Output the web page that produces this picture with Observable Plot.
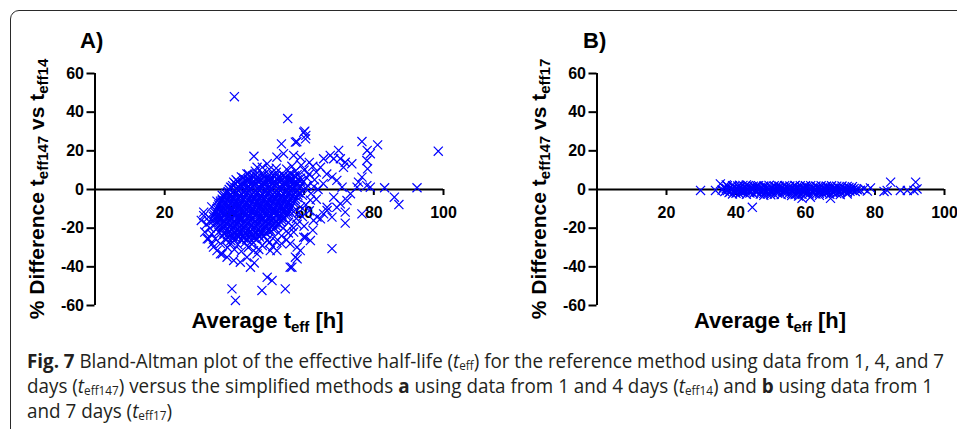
<!DOCTYPE html>
<html><head><meta charset="utf-8">
<script src="https://cdn.jsdelivr.net/npm/d3@7"></script>
<script src="https://cdn.jsdelivr.net/npm/@observablehq/plot@0.6"></script>
<style>
html,body{margin:0;padding:0;background:#fff;width:957px;height:429px;overflow:hidden;}
#frame{position:absolute;left:10px;top:10px;width:990px;height:470px;border:1.6px solid #2a2a2a;border-radius:9px;box-sizing:border-box;}
#pa{position:absolute;left:0;top:0;width:480px;height:340px;}
#pb{position:absolute;left:480px;top:0;width:477px;height:340px;}
#ov{position:absolute;left:0;top:0;}
.ttl{font-family:"Liberation Sans",Arial,sans-serif;font-weight:bold;fill:#000;}
.cap{position:absolute;left:27px;font-family:"Open Sans",sans-serif;color:#231f20;font-size:20px;line-height:25px;white-space:nowrap;transform-origin:0 50%;}
.cap sub{display:inline-block;font-size:12.5px;line-height:9px;vertical-align:-2px;}
</style></head><body>
<div id="frame"></div>
<div id="pa"></div><div id="pb"></div>
<svg id="ov" width="957" height="340">
  <text class="ttl" x="80" y="48" font-size="22">A)</text>
  <text class="ttl" x="583" y="48" font-size="22">B)</text>
  <text class="ttl" font-size="21" text-anchor="middle" transform="translate(44,189) rotate(-90)">% Difference t<tspan font-size="15" dy="4">eff147</tspan><tspan dy="-4"> vs t</tspan><tspan font-size="15" dy="4">eff14</tspan></text>
  <text class="ttl" font-size="21" text-anchor="middle" transform="translate(546,189) rotate(-90)">% Difference t<tspan font-size="15" dy="4">eff147</tspan><tspan dy="-4"> vs t</tspan><tspan font-size="15" dy="4">eff17</tspan></text>
  <text class="ttl" font-size="22" text-anchor="middle" x="267.5" y="328">Average t<tspan font-size="15" dy="4">eff</tspan><tspan dy="-4"> [h]</tspan></text>
  <text class="ttl" font-size="22" text-anchor="middle" x="770" y="328">Average t<tspan font-size="15" dy="4">eff</tspan><tspan dy="-4"> [h]</tspan></text>
</svg>
<div class="cap" data-w="917" style="top:348px"><b>Fig. 7</b> Bland-Altman plot of the effective half-life (<i>t</i><sub>eff</sub>) for the reference method using data from 1, 4, and 7</div>
<div class="cap" data-w="906" style="top:373px">days (<i>t</i><sub>eff147</sub>) versus the simplified methods <b>a</b> using data from 1 and 4 days (<i>t</i><sub>eff14</sub>) and <b>b</b> using data from 1</div>
<div class="cap" data-w="145" style="top:398px">and 7 days (<i>t</i><sub>eff17</sub>)</div>
<script>
// ---- data ----
const xTicks = [20, 40, 60, 80, 100];
const yTicks = [-60, -40, -20, 0, 20, 40, 60];

// Panel A: dense core of the cloud (even rows)
const coreA = [
[44,8],[46,7.3],[48,8.6],[50,7.6],[52,8.9],[54,7.2],[56,8.3],[58,7.7],
[42.5,6],[44,5.4],[45.5,6.5],[47,5.7],[48.5,6.3],[50,5.5],[51.5,6.6],[53,5.8],[54.5,6.2],[56,5.4],[57.5,6.4],[59,5.9],
[41,4],[42.5,3.5],[44,4.6],[45.5,3.8],[47,4.3],[48.5,3.4],[50,4.5],[51.5,3.7],[53,4.2],[54.5,3.5],[56,4.4],[57.5,3.9],[59,4.3],
[39.5,2],[41,1.4],[42.5,2.5],[44,1.7],[45.5,2.3],[47,1.5],[48.5,2.6],[50,1.8],[51.5,2.2],[53,1.4],[54.5,2.5],[56,1.9],[57.5,2.3],[59,1.6],
[38.5,0],[40,-0.6],[41.5,0.5],[43,-0.3],[44.5,0.4],[46,-0.5],[47.5,0.6],[49,-0.2],[50.5,0.3],[52,-0.6],[53.5,0.5],[55,-0.1],[56.5,0.3],[58,-0.4],
[37.5,-2],[39,-2.6],[40.5,-1.5],[42,-2.3],[43.5,-1.6],[45,-2.5],[46.5,-1.4],[48,-2.2],[49.5,-1.7],[51,-2.6],[52.5,-1.5],[54,-2.1],[55.5,-1.7],[57,-2.4],[58.5,-1.8],
[37,-4],[38.5,-3.5],[40,-4.6],[41.5,-3.7],[43,-4.3],[44.5,-3.4],[46,-4.5],[47.5,-3.8],[49,-4.2],[50.5,-3.5],[52,-4.4],[53.5,-3.9],[55,-4.3],[56.5,-3.6],[58,-4.1],
[36,-6],[37.5,-6.5],[39,-5.4],[40.5,-6.2],[42,-5.7],[43.5,-6.6],[45,-5.5],[46.5,-6.3],[48,-5.8],[49.5,-6.4],[51,-5.5],[52.5,-6.1],[54,-5.7],[55.5,-6.5],[57,-5.9],
[35.5,-8],[37,-7.4],[38.5,-8.5],[40,-7.7],[41.5,-8.3],[43,-7.5],[44.5,-8.6],[46,-7.8],[47.5,-8.2],[49,-7.4],[50.5,-8.5],[52,-7.9],[53.5,-8.3],[55,-7.6],[56.5,-8.1],
[35,-10],[36.5,-10.6],[38,-9.5],[39.5,-10.3],[41,-9.7],[42.5,-10.5],[44,-9.4],[45.5,-10.2],[47,-9.8],[48.5,-10.6],[50,-9.5],[51.5,-10.1],[53,-9.7],[54.5,-10.4],[56,-9.9],
[34.5,-12],[36,-11.4],[37.5,-12.5],[39,-11.7],[40.5,-12.3],[42,-11.5],[43.5,-12.6],[45,-11.8],[46.5,-12.2],[48,-11.4],[49.5,-12.5],[51,-11.9],[52.5,-12.3],[54,-11.6],[55.5,-12.1],
[34,-14],[35.5,-14.5],[37,-13.4],[38.5,-14.2],[40,-13.7],[41.5,-14.6],[43,-13.5],[44.5,-14.3],[46,-13.8],[47.5,-14.4],[49,-13.5],[50.5,-14.1],[52,-13.7],[53.5,-14.5],[55,-13.9],
[34,-16],[35.5,-15.4],[37,-16.5],[38.5,-15.7],[40,-16.3],[41.5,-15.5],[43,-16.6],[44.5,-15.8],[46,-16.2],[47.5,-15.4],[49,-16.5],[50.5,-15.9],[52,-16.3],[53.5,-15.6],
[34.5,-18],[36,-18.5],[37.5,-17.4],[39,-18.2],[40.5,-17.7],[42,-18.6],[43.5,-17.5],[45,-18.3],[46.5,-17.8],[48,-18.4],[49.5,-17.5],[51,-18.1],[52.5,-17.7],
[35,-20],[36.5,-19.4],[38,-20.5],[39.5,-19.7],[41,-20.3],[42.5,-19.5],[44,-20.6],[45.5,-19.8],[47,-20.2],[48.5,-19.4],[50,-20.5],[51.5,-19.9],
[35.5,-22],[37,-22.5],[38.5,-21.4],[40,-22.2],[41.5,-21.7],[43,-22.6],[44.5,-21.5],[46,-22.3],[47.5,-21.8],[49,-22.4],[50.5,-21.6],
[36.5,-24],[38,-23.4],[39.5,-24.5],[41,-23.7],[42.5,-24.3],[44,-23.5],[45.5,-24.6],[47,-23.8],[48.5,-24.2],
[37.5,-26],[39,-26.5],[40.5,-25.4],[42,-26.2],[43.5,-25.7],[45,-26.6],[46.5,-25.5],
[39,-28],[41,-28.5],[43,-27.6],[45,-28.3]
];
// Panel A: dense core of the cloud (odd rows)
const core2A = [
[45.2,7],[46.7,6.6],[48.2,7.4],[49.7,6.8],[51.2,7.2],[52.7,6.7],[54.2,7.3],[55.7,6.9],[57.2,7.1],
[43.2,5],[44.7,4.6],[46.2,5.3],[47.7,4.8],[49.2,5.2],[50.7,4.7],[52.2,5.4],[53.7,4.9],[55.2,5.1],[56.7,4.7],[58.2,5.2],
[40.2,3],[41.7,2.6],[43.2,3.3],[44.7,2.8],[46.2,3.2],[47.7,2.7],[49.2,3.4],[50.7,2.9],[52.2,3.1],[53.7,2.6],[55.2,3.3],[56.7,2.8],[58.2,3.2],
[39.2,1],[40.7,0.6],[42.2,1.3],[43.7,0.8],[45.2,1.2],[46.7,0.7],[48.2,1.4],[49.7,0.9],[51.2,1.1],[52.7,0.6],[54.2,1.3],[55.7,0.8],[57.2,1.2],[58.7,0.9],
[38.2,-1],[39.7,-1.4],[41.2,-0.7],[42.7,-1.2],[44.2,-0.8],[45.7,-1.3],[47.2,-0.6],[48.7,-1.1],[50.2,-0.9],[51.7,-1.4],[53.2,-0.7],[54.7,-1.2],[56.2,-0.8],[57.7,-1.1],
[37.2,-3],[38.7,-3.4],[40.2,-2.7],[41.7,-3.2],[43.2,-2.8],[44.7,-3.3],[46.2,-2.6],[47.7,-3.1],[49.2,-2.9],[50.7,-3.4],[52.2,-2.7],[53.7,-3.2],[55.2,-2.8],[56.7,-3.1],[58.2,-3],
[36.5,-5],[38,-5.4],[39.5,-4.7],[41,-5.2],[42.5,-4.8],[44,-5.3],[45.5,-4.6],[47,-5.1],[48.5,-4.9],[50,-5.4],[51.5,-4.7],[53,-5.2],[54.5,-4.8],[56,-5.1],[57.5,-5],
[36,-7],[37.5,-7.4],[39,-6.7],[40.5,-7.2],[42,-6.8],[43.5,-7.3],[45,-6.6],[46.5,-7.1],[48,-6.9],[49.5,-7.4],[51,-6.7],[52.5,-7.2],[54,-6.8],[55.5,-7.1],[57,-7],
[35.2,-9],[36.7,-9.4],[38.2,-8.7],[39.7,-9.2],[41.2,-8.8],[42.7,-9.3],[44.2,-8.6],[45.7,-9.1],[47.2,-8.9],[48.7,-9.4],[50.2,-8.7],[51.7,-9.2],[53.2,-8.8],[54.7,-9.1],[56.2,-9],
[34.7,-11],[36.2,-11.4],[37.7,-10.7],[39.2,-11.2],[40.7,-10.8],[42.2,-11.3],[43.7,-10.6],[45.2,-11.1],[46.7,-10.9],[48.2,-11.4],[49.7,-10.7],[51.2,-11.2],[52.7,-10.8],[54.2,-11.1],[55.7,-11],
[34.2,-13],[35.7,-13.4],[37.2,-12.7],[38.7,-13.2],[40.2,-12.8],[41.7,-13.3],[43.2,-12.6],[44.7,-13.1],[46.2,-12.9],[47.7,-13.4],[49.2,-12.7],[50.7,-13.2],[52.2,-12.8],[53.7,-13.1],[55.2,-13],
[34.7,-15],[36.2,-15.4],[37.7,-14.7],[39.2,-15.2],[40.7,-14.8],[42.2,-15.3],[43.7,-14.6],[45.2,-15.1],[46.7,-14.9],[48.2,-15.4],[49.7,-14.7],[51.2,-15.2],[52.7,-14.8],[54.2,-15.1],
[35.2,-17],[36.7,-17.4],[38.2,-16.7],[39.7,-17.2],[41.2,-16.8],[42.7,-17.3],[44.2,-16.6],[45.7,-17.1],[47.2,-16.9],[48.7,-17.4],[50.2,-16.7],[51.7,-17.2],[53.2,-16.8],
[35.7,-19],[37.2,-19.4],[38.7,-18.7],[40.2,-19.2],[41.7,-18.8],[43.2,-19.3],[44.7,-18.6],[46.2,-19.1],[47.7,-18.9],[49.2,-19.4],[50.7,-18.7],[52.2,-19.2],
[36.2,-21],[37.7,-21.4],[39.2,-20.7],[40.7,-21.2],[42.2,-20.8],[43.7,-21.3],[45.2,-20.6],[46.7,-21.1],[48.2,-20.9],[49.7,-21.4],[51.2,-20.7],
[37.2,-23],[38.7,-23.4],[40.2,-22.7],[41.7,-23.2],[43.2,-22.8],[44.7,-23.3],[46.2,-22.6],[47.7,-23.1],[49.2,-22.9],
[38.2,-25],[39.7,-25.4],[41.2,-24.7],[42.7,-25.2],[44.2,-24.8],[45.7,-25.3],[47.2,-24.6]
];
// Panel A: scattered points around the core
const fringeA = [
[40,48],[55.3,36.7],[60.2,30.2],[60.5,28],[57.9,24.7],[53.5,23.6],[45.6,17.2],[76.6,24.8],[81.1,23.1],[78.1,20.2],
[79,18.5],[98.5,19.8],[69.9,20.2],[67.5,17.6],[70.4,15.9],[71.8,14.1],[68.5,15.9],[73.7,13.3],[71.3,11.5],[78,15],
[78.2,10.7],[76.6,6.4],[75.6,3.8],[79,1.2],[83.1,0.9],[92.4,0.9],[85.9,-4],[87.2,-7.8],[71.8,-17.4],[68,-30.6],
[76.6,-12.6],[65.6,15.9],[64.7,11.5],[68,6.4],[69.4,4.7],[70.9,1.2],[75.2,1.2],[73.3,-2.2],[72.3,-5.7],[70.4,-7.4],
[68.5,-4],[66.6,-9.2],[65.6,-12.6],[64.7,-15.2],[68,-14.3],[62.7,-16],[71.8,-11.7],[63.7,-14.3],[66.6,-10.9],[69.4,-9.2],
[78,2],[59.9,29.6],[57.5,24.5],[60.4,26.2],
[31.2,-11.7],[32.6,-14.3],[32.2,-25.5],[33.6,-28.1],[35,-31.6],[36.5,-33.3],[37.9,-35],[39.8,-36.7],[41.7,-37.6],[44.6,-40.2],
[49.4,-45.4],[50.8,-47.1],[47.9,-52.2],[54.6,-51.4],[39.3,-51.4],[40.3,-57.4],[56,-40.2],[58,-35.9],[58.9,-31.6],[60.4,-24.7],
[56,-28.1],[52.2,-31.6],[50.3,-31.6],[45.5,-31.6],[46.5,-33.3],[43.6,-35],[61.8,-26.4],[59.9,-24.7],[58,-29.8],[57.5,-35],
[56.5,-40.2],[31.2,-13.5],[32.6,-25.5],[34,-29.8],[36,-33.3],[36.5,-5.7],[38.9,1.2],[39.8,3.8],[43.6,8.1],[46.5,11.5],
[49.4,13.3],[52.2,16.7],[54.1,18.5],[57,17.6],[58.9,16.7],[45.7,-38],
[60,10],[61.5,8],[62.5,12],[63,5],[61,2],[62,-2],[63.5,-5],[64,0],[65.5,3],[66.5,8],
[60.5,-8],[61.5,-11],[59.5,-14],[58,-18],[57,-22],[60,-19],[62.5,-21],[55,-26],[53.5,-24],[52,-27],
[48,-29],[50,-27.5],[54,-20],[55.5,-17],[56.5,12],[55,10.5],[52,11],[50,10.5],[48,11.5],[46,9.5],
[42,6.5],[40.5,5],[38,-1.5],[36.5,-3],[35,-6],[33.5,-9],[33,-17],[33,-20],[33.5,-23],[34.5,-25.5],
[36,-28],[38,-30],[40,-31],[42,-32],[44,-30],[47,-31],[35.5,-13],[32,-18],[31.5,-22],[30.5,-16],
[59.5,-3],[60.5,0.5],[59.8,4],[61.8,-5.5],[59,-9],[58.5,-12],[57.8,-15],[60.8,6],[62.8,1.5],[63.5,9],
[57.5,9.5],[59.2,12.5],[61.5,14],[57,-11.5],[56.5,-19],[55.5,-22.5],[53.5,-28],[51.5,-24.5],[49.5,-26],[51,-29.5]
];

// Panel B: tight band around zero
const bandB = [
[37.5,1.9],[39,2],[40.5,1.8],[42,2.1],[43.5,1.9],[45,1.7],[46.5,2],[48,1.8],[49.5,2.1],[51,1.9],[52.5,1.7],[54,2],[55.5,1.8],
[57,2.1],[58.5,1.9],[60,1.7],[61.5,2],[63,1.8],[64.5,1.9],[66,1.6],[67.5,1.9],[69,1.7],[70.5,1.8],[72,1.6],[73.5,1.5],
[36.5,1.2],[38,0.8],[39.5,1.5],[41,1],[42.5,1.4],[44,0.9],[45.5,1.3],[47,1.1],[48.5,1.6],[50,0.8],[51.5,1.3],[53,1],[54.5,1.5],
[56,0.9],[57.5,1.2],[59,1],[60.5,1.4],[62,0.8],[63.5,1.2],[65,1],[66.5,1.3],[68,0.7],[69.5,1.1],[71,0.8],[72.5,1],[74,0.6],
[37.2,0.5],[38.7,0.3],[40.2,0.6],[41.7,0.2],[43.2,0.5],[44.7,0.4],[46.2,0.7],[47.7,0.3],[49.2,0.5],[50.7,0.2],[52.2,0.6],[53.7,0.4],[55.2,0.5],
[56.7,0.3],[58.2,0.6],[59.7,0.4],[61.2,0.5],[62.7,0.2],[64.2,0.6],[65.7,0.3],[67.2,0.5],[68.7,0.4],[70.2,0.6],[71.7,0.2],[73.2,0.4],[74.7,0.3],
[36,-0.3],[37.5,-0.6],[39,0],[40.5,-0.4],[42,-0.1],[43.5,-0.5],[45,0.1],[46.5,-0.3],[48,-0.6],[49.5,0],[51,-0.4],[52.5,-0.2],[54,-0.5],
[55.5,0.1],[57,-0.3],[58.5,-0.6],[60,-0.1],[61.5,-0.4],[63,0],[64.5,-0.5],[66,-0.2],[67.5,-0.4],[69,0],[70.5,-0.3],[72,-0.1],[73.5,-0.4],[75,-0.2],
[36.8,-1],[38.3,-1.2],[39.8,-0.9],[41.3,-1.1],[42.8,-0.8],[44.3,-1.2],[45.8,-1],[47.3,-0.9],[48.8,-1.2],[50.3,-1],[51.8,-0.8],[53.3,-1.1],[54.8,-1],
[56.3,-1.2],[57.8,-0.9],[59.3,-1.1],[60.8,-0.8],[62.3,-1.2],[63.8,-1],[65.3,-0.9],[66.8,-1.1],[68.3,-1],[69.8,-0.8],[71.3,-1.1],[72.8,-0.9],[74.3,-1],
[38,-1.6],[40,-1.9],[42,-1.4],[44,-1.8],[46,-1.5],[48,-2],[50,-1.6],[52,-1.9],[54,-1.4],[56,-2],[58,-1.7],[60,-2.1],[62,-1.5],
[64,-1.9],[66,-1.6],[68,-1.8],[70,-1.3],[72,-1.5],
[39,-2.3],[41,-2.2],[43,-2.5],[45,-2.2],[47,-2.4],[49,-2.3],[51,-2.5],[55,-2.4],[57,-2.6],[59,-2.5],[61,-2.3],[63,-2.4],[65,-2.2],[67,-2.5],[69,-2.1],
[37.2,2.4],[41,2.2],[43,2.4],[46,1.9],[52,2.1],[57,2],[60,1.9],[66,1.7],[48,-3],[50,-2.8],[56,-3.1],[58,-3.4],[59,-4.6],
[61.4,-4],[64,-3],[67.2,-4.6],[70,-2.6],[72,-2.3],[53,-2.6]
];
const outliersB = [
[29.8,-0.5],[34.1,-0.5],[35.5,2.9],[44.7,-9.2],[75.8,-0.4],[76.9,0.4],[77.8,-0.8],[78.7,0.8],[83.5,-0.5],[84.5,3.8],
[87.3,-0.5],[89.3,-0.5],[91.2,-0.5],[91.7,3.8],[92.1,0.3],[82.6,-1]
];

const dataA = coreA.concat(core2A, fringeA);
const dataB = bandB.concat(outliersB);

function panel(data, width, marginLeft, marginRight) {
  return Plot.plot({
    width, height: 340,
    marginLeft, marginRight, marginTop: 73, marginBottom: 35,
    x: {domain: [0, 100], axis: null},
    y: {domain: [-60, 60], axis: null},
    style: {fontFamily: "'Liberation Sans', Arial, sans-serif", fontSize: "16px", fontWeight: "bold",
            background: "transparent", color: "#000", overflow: "visible"},
    marks: [
      Plot.axisY({ticks: yTicks, tickSize: 8, tickPadding: 3, strokeWidth: 2, label: null, tickFormat: d => String(d)}),
      Plot.ruleX([0], {strokeWidth: 2}),
      Plot.ruleY([0], {strokeWidth: 2}),
      Plot.ruleX(xTicks, {x: d => d, y1: 0, y2: 0, insetBottom: -6, strokeWidth: 2}),
      Plot.text(xTicks, {x: d => d, y: 0, dy: 23, text: d => String(d), fill: "#000"}),
      Plot.dot(data, {x: d => d[0], y: d => d[1], symbol: "times", r: 4.2, stroke: "#0000ff", strokeWidth: 1.2})
    ]
  });
}

document.getElementById("pa").appendChild(panel(dataA, 480, 94.5, 37));
document.getElementById("pb").appendChild(panel(dataB, 477, 116.5, 13));

// fit caption lines to their widths in the reference (condensed face)
document.querySelectorAll(".cap").forEach(el => {
  const w = el.getBoundingClientRect().width;
  const target = +el.dataset.w;
  el.style.transform = `scaleX(${target / w})`;
});
</script>
</body></html>
